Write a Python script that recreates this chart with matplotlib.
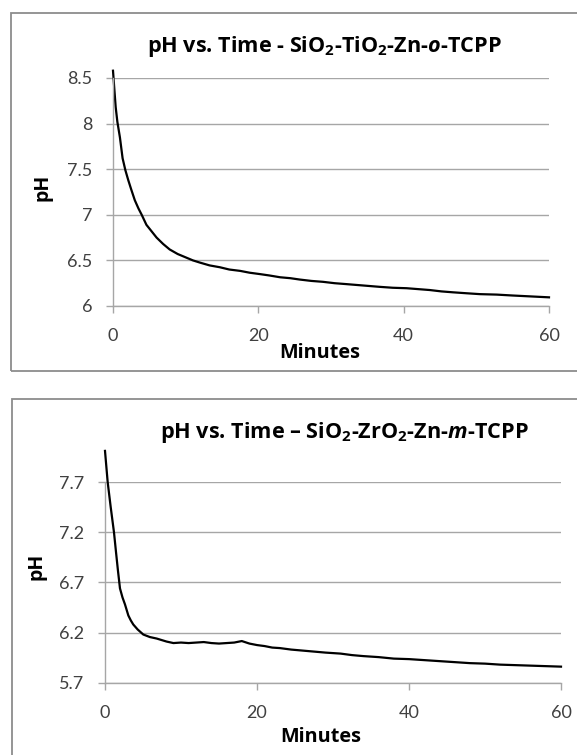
import matplotlib
matplotlib.use('Agg')
import matplotlib.pyplot as plt
from matplotlib.patches import Rectangle

plt.rcParams['font.family'] = ['Lato', 'DejaVu Sans']
plt.rcParams['mathtext.fontset'] = 'custom'
plt.rcParams['mathtext.rm'] = 'Open Sans:bold'
plt.rcParams['mathtext.it'] = 'Open Sans:italic:bold'
plt.rcParams['mathtext.bf'] = 'Open Sans:bold'

# top chart: SiO2-TiO2-Zn-o-TCPP
time_top = [0, 0.2, 0.37, 0.6, 0.95, 1.32, 1.7, 2.1, 2.5, 3.0, 3.5, 3.95, 4.6, 5.3,
            6.0, 6.9, 7.8, 8.9, 10.1, 11.0, 12.0, 13.3, 14.7, 16.0, 17.5, 18.8,
            20.2, 21.5, 23.0, 24.4, 25.7, 27.3, 28.9, 30.5, 32.1, 34.4, 36.7,
            38.5, 40.4, 42.0, 43.6, 45.2, 46.8, 48.6, 50.5, 52.8, 55.0, 57.5, 60]
ph_top = [8.58, 8.36, 8.18, 8.02, 7.85, 7.62, 7.49, 7.38, 7.28, 7.16, 7.07, 7.00,
          6.89, 6.82, 6.75, 6.68, 6.62, 6.57, 6.53, 6.50, 6.475, 6.445, 6.425,
          6.4, 6.385, 6.365, 6.35, 6.335, 6.315, 6.305, 6.29, 6.275, 6.265,
          6.25, 6.24, 6.225, 6.21, 6.2, 6.195, 6.185, 6.175, 6.16, 6.15, 6.14,
          6.13, 6.125, 6.115, 6.105, 6.095]

# bottom chart: SiO2-ZrO2-Zn-m-TCPP
time_bot = [0, 0.35, 0.75, 1.18, 1.45, 1.7, 1.97, 2.3, 2.63, 3.07, 3.4, 3.72, 4.3,
            5.04, 5.9, 6.8, 8.1, 9.0, 10, 11, 12, 13, 14, 15, 16, 17, 18, 19,
            20, 21, 22, 23, 24.5, 26, 27.5, 29, 31, 32.5, 34, 36, 38, 40, 42,
            44, 46, 48, 50, 52, 54, 56, 58, 60]
ph_bot = [8.01, 7.70, 7.45, 7.20, 7.00, 6.82, 6.64, 6.55, 6.48, 6.37, 6.32, 6.28,
          6.23, 6.18, 6.155, 6.14, 6.11, 6.095, 6.10, 6.095, 6.10, 6.105, 6.095,
          6.09, 6.095, 6.10, 6.115, 6.09, 6.075, 6.065, 6.05, 6.045, 6.03, 6.02,
          6.01, 6.0, 5.99, 5.975, 5.965, 5.955, 5.94, 5.935, 5.925, 5.915, 5.905,
          5.895, 5.89, 5.88, 5.875, 5.87, 5.865, 5.86]

x_ticks = [0, 20, 40, 60]
y_ticks_top = [6, 6.5, 7, 7.5, 8, 8.5]
y_labels_top = ['6', '6.5', '7', '7.5', '8', '8.5']
y_ticks_bot = [5.7, 6.2, 6.7, 7.2, 7.7]
y_labels_bot = ['5.7', '6.2', '6.7', '7.2', '7.7']

title_top = 'pH vs. Time - SiO$_2$-TiO$_2$-Zn-$\\mathit{o}$-TCPP'
title_bot = 'pH vs. Time \u2013 SiO$_2$-ZrO$_2$-Zn-$\\mathit{m}$-TCPP'

W, H = 577, 755
fig = plt.figure(figsize=(W / 100, H / 100), dpi=100)


def box(x0, y0, x1, y1):
    # pixel box (top-left origin) -> figure fractions
    return [x0 / W, 1 - y1 / H, (x1 - x0) / W, (y1 - y0) / H]


def fx(x):
    return x / W


def fy(y):
    return 1 - y / H


grey = '#a6a6a6'
bold_font = ['Open Sans', 'DejaVu Sans']

# chart frames
fig.add_artist(Rectangle((fx(11), fy(371)), fx(600) - fx(11), fy(13) - fy(371),
                         transform=fig.transFigure, fill=False, ec='#8c8c8c', lw=1.3))
fig.add_artist(Rectangle((fx(12), fy(790)), fx(600) - fx(12), fy(399) - fy(790),
                         transform=fig.transFigure, fill=False, ec='#8c8c8c', lw=1.3))


def style(ax, yticks, ylabels, ylim):
    ax.set_xlim(0, 60)
    ax.set_ylim(*ylim)
    ax.set_xticks(x_ticks)
    ax.set_yticks(yticks)
    ax.set_yticklabels(ylabels)
    ax.grid(axis='y', color=grey, lw=1)
    ax.set_axisbelow(True)
    for s in ['top', 'right']:
        ax.spines[s].set_visible(False)
    for s in ['left', 'bottom']:
        ax.spines[s].set_color(grey)
        ax.spines[s].set_linewidth(1)
    ax.tick_params(direction='out', length=5, width=1, color=grey,
                   labelcolor='#404040', labelsize=13)
    ax.tick_params(axis='y', pad=10)
    ax.tick_params(axis='x', pad=11)


ax1 = fig.add_axes(box(113, 78, 549, 306))
style(ax1, y_ticks_top, y_labels_top, (6, 8.5))
ax1.plot(time_top, ph_top, color='black', lw=1.6, clip_on=False)

ax2 = fig.add_axes(box(105, 482, 561, 682.7))
style(ax2, y_ticks_bot, y_labels_bot, (5.7, 7.7))
ax2.plot(time_bot, ph_bot, color='black', lw=1.6, clip_on=False)

# titles and axis labels
fig.text(fx(324), fy(52), title_top, ha='center', va='baseline',
         fontsize=15.6, fontweight='bold', family=bold_font)
fig.text(fx(344), fy(438), title_bot, ha='center', va='baseline',
         fontsize=15.6, fontweight='bold', family=bold_font)
fig.text(fx(320), fy(358), 'Minutes', ha='center', va='baseline',
         fontsize=14.3, fontweight='bold', family=bold_font)
fig.text(fx(321), fy(742), 'Minutes', ha='center', va='baseline',
         fontsize=14.3, fontweight='bold', family=bold_font)
fig.text(fx(43), fy(187), 'pH', ha='center', va='center', rotation=90,
         fontsize=14, fontweight='bold', family=bold_font)
fig.text(fx(36), fy(566), 'pH', ha='center', va='center', rotation=90,
         fontsize=14, fontweight='bold', family=bold_font)

fig.savefig('out.png', dpi=100)
